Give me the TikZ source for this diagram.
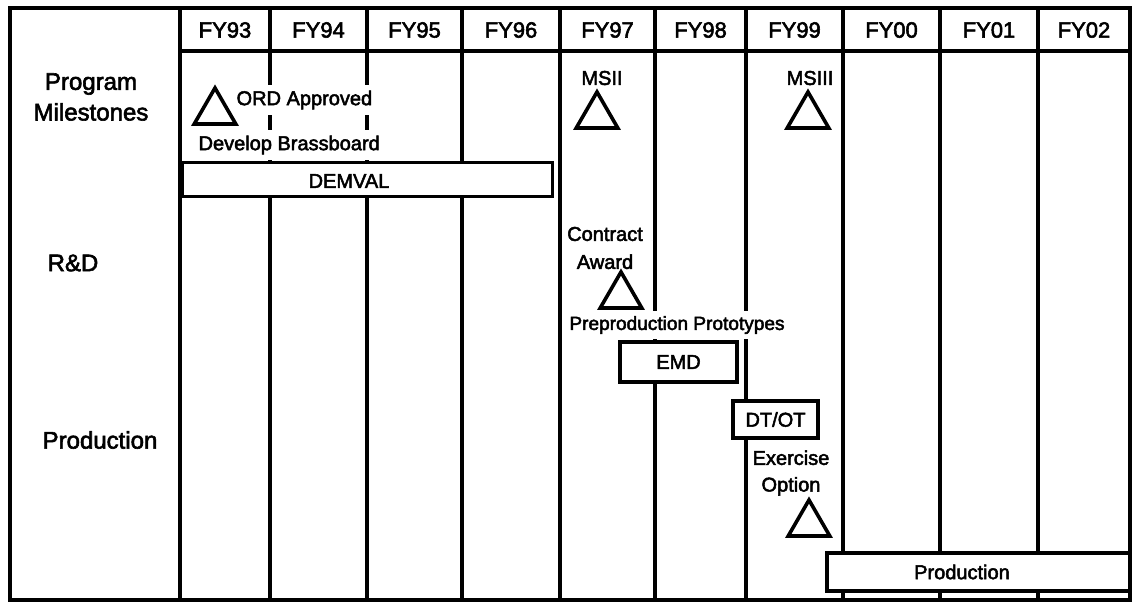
\documentclass[tikz,border=0pt]{standalone}
\usepackage{fontspec}
\setmainfont{Liberation Sans}
\newfontfamily\chartfont[FakeBold=2.5]{Liberation Sans}
\usetikzlibrary{shapes.geometric}

\begin{document}
\begin{tikzpicture}[x=0.75pt, y=-0.75pt,
    grid/.style={line width=2.3pt},
    fyhead/.style={font=\chartfont\fontsize{16.5}{19}\selectfont},
    rowlabel/.style={font=\chartfont\fontsize{18}{23}\selectfont, align=center},
    note/.style={font=\chartfont\fontsize{15}{21}\selectfont, fill=white, inner xsep=1pt, inner ysep=4pt},
    bar/.style={draw, line width=2.3pt, fill=white, inner sep=0pt, font=\chartfont\fontsize{15}{18}\selectfont},
    mile/.style={regular polygon, regular polygon sides=3, draw, line width=2.7pt, minimum size=36pt, inner sep=0pt}]
    \useasboundingbox (0,0) rectangle (1132,604);

    % Frame and year columns
    \draw[grid] (10,8) rectangle (1130,600);
    \draw[grid] (180,51) -- (1130,51);
    \draw[grid] (180,8) -- (180,600);
    \foreach \yr/\xa/\xb in {93/180/270, 94/270/367, 95/367/462, 96/462/560, 97/560/655,
                              98/655/746, 99/746/843, 00/843/940, 01/940/1038, 02/1038/1130}{
        \draw[grid] (\xb,8) -- (\xb,600);
        \node[fyhead] (fy\yr) at ({(\xa+\xb)/2},30) {FY\yr};
    }

    % Row labels
    \node[rowlabel] (progms) at (91,97) {Program\\Milestones};
    \node[rowlabel] (rnd) at (73,263) {R\&D};
    \node[rowlabel] (prodrow) at (100,440) {Production};

    % Program milestones
    \node[mile] (ord) at (215,112) {};
    \node[note, anchor=west] (ordtext) at (235,100) {ORD Approved};
    \node[note, anchor=west] (brass) at (197,145) {Develop Brassboard};
    \node[bar, minimum width=278pt, minimum height=26pt] (demval) at (367.5,179.5) {};
    \node[note, fill=none] (demvaltext) at (349,181) {DEMVAL};
    \node[note] (msii) at (602,78) {MSII};
    \node[mile] (msiitri) at (597,116) {};
    \node[note] (msiii) at (810,78) {MSIII};
    \node[mile] (msiiitri) at (808,116) {};

    % R&D
    \node[note, align=center] (award) at (605,248) {Contract\\Award};
    \node[mile] (awardtri) at (621,296) {};
    \node[note, font=\chartfont\fontsize{14.3}{18}\selectfont] (proto) at (677,325) {Preproduction Prototypes};
    \node[bar, minimum width=87.75pt, minimum height=30pt] (emd) at (678.5,362) {EMD};

    % Production
    \node[bar, minimum width=63.75pt, minimum height=27.75pt] (dtot) at (775.5,419.5) {DT/OT};
    \node[note, align=center, font=\chartfont\fontsize{15}{20}\selectfont] (option) at (791,473) {Exercise\\Option};
    \node[mile] (optiontri) at (809,524) {};
    \node[bar, minimum width=227.25pt, minimum height=28.5pt] (prodbar) at (978.5,572) {};
    \node[note, fill=none] (prodtext) at (962,572) {Production};
\end{tikzpicture}
\end{document}
